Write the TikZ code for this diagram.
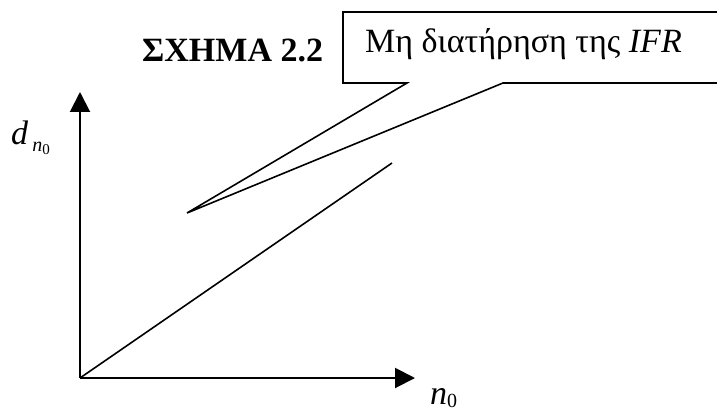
\documentclass[tikz,border=0pt]{standalone}
\usepackage{fontspec}
\setmainfont{Liberation Serif}
\usetikzlibrary{arrows.meta}
\begin{document}
\begin{tikzpicture}[x=1pt,y=-1pt,
  axis/.style={line width=2pt,-{Triangle[length=20pt,width=20pt]}},
  plainline/.style={line width=1.6pt,line join=miter},
  txt/.style={inner sep=0pt,anchor=base west,font=\fontsize{34}{40}\selectfont}]
\useasboundingbox (0,0) rectangle (717,414);
\coordinate (O) at (80,378);
\coordinate (ytip) at (80,92);
\coordinate (xtip) at (415,378);
\draw[axis] (O) -- (ytip);
\draw[axis] (O) -- (xtip);
\coordinate (lineend) at (392,163);
\draw[plainline] (O) -- (lineend);
% callout
\coordinate (boxTR) at (717,12);
\coordinate (boxTL) at (343,12);
\coordinate (boxBL) at (343,83);
\coordinate (ptrA) at (407,83);
\coordinate (ptrB) at (503,83);
\coordinate (boxBR) at (717,83);
\coordinate (ptr) at (187,213);
\draw[plainline] (boxTR) -- (boxTL) -- (boxBL) -- (ptrA) -- (ptr) -- (ptrB) -- (boxBR);
\node[txt] (title) at (142,62) {\textbf{ΣΧΗΜΑ 2.2}};
\node[txt] (callout) at (365,53) {Μη διατήρηση της \textit{IFR}};
\node[txt] (dlabel) at (11,145) {\textit{d}\hspace{4pt}\raisebox{-7pt}{\fontsize{20}{20}\selectfont\textit{n}\raisebox{-3pt}{\fontsize{15}{15}\selectfont 0}}};
\node[txt] (nlabel) at (430,404) {\textit{n}\raisebox{-3pt}{\fontsize{20}{20}\selectfont 0}};
\end{tikzpicture}
\end{document}
